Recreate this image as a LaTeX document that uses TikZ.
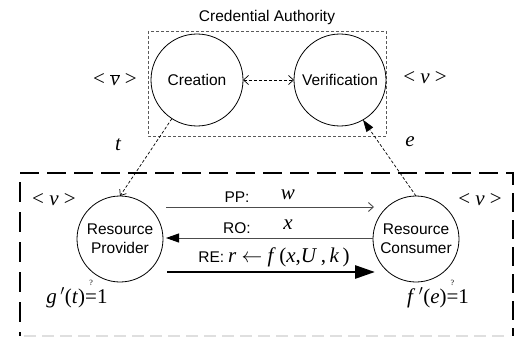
\documentclass[tikz,border=0pt]{standalone}
\usepackage{fontspec}
\setmainfont{Liberation Sans}
\newfontfamily\tms{Liberation Serif}
\usetikzlibrary{arrows.meta,calc}
\newcommand{\qeq}{\setbox0\hbox{=}\rlap{\hbox to \wd0{\hss\raisebox{18pt}{\fontsize{8}{8}\selectfont ?}\hss}}=}
\begin{document}
\begin{tikzpicture}[x=1pt,y=-1pt,
  every node/.style={inner sep=0pt,outer sep=0pt},
  sans/.style={font=\fontsize{15.5}{18.6}\selectfont},
  mth/.style={font=\tms\fontsize{21}{24}\selectfont},
  circ/.style={circle,draw,line width=0.8pt,minimum size=92pt,align=center,sans},
  smallcirc/.style={circ,minimum size=86pt},
  thindash/.style={dash pattern=on 3pt off 2pt,line width=0.7pt},
]
\useasboundingbox (0,0) rectangle (517,337);
% Credential authority
\node[sans] (title) at (267,17) {Credential Authority};
\draw[gray!70!black, dash pattern=on 3pt off 2pt, line width=0.8pt] (148,31) rectangle (386,136);
\node[circ] (cre) at (197,80) {Creation};
\node[circ] (ver) at (340,80) {Verification};
\draw[thindash, {Straight Barb[length=5pt,width=9pt]}-{Straight Barb[length=5pt,width=9pt]}] (cre) -- (ver);
\node[mth] (lvbar) at (115,80) {< $\overline{\hbox{\itshape v}}$ >};
\node[mth] (rv) at (425,78) {< \textit{v} >};
% big box
\draw[line width=2.6pt, dash pattern=on 19pt off 8pt] (20,173) -- (513,173) -- (513,336);
\draw[line width=2.6pt, dash pattern=on 20pt off 10pt] (20,182) -- (20,336);
\draw[gray!25, line width=1.5pt, dash pattern=on 12pt off 6pt] (24,336) -- (510,336);
% resource nodes
\node[smallcirc] (rp) at (120,239) {Resource\\Provider};
\node[smallcirc] (rc) at (416,239) {Resource\\Consumer};
\node[mth] (lv2) at (54,200) {< \textit{v} >};
\node[mth] (rv2) at (480,200) {< \textit{v} >};
% messages
\draw[gray!60!black, line width=0.9pt, -{Straight Barb[length=5pt,width=9pt]}] ($(rp.east)+(3,-32)$) -- ($(rc.west)+(1,-32)$);
\draw[gray!60!black, line width=0.9pt, -{Triangle[length=13pt,width=9pt,color=black]}] ($(rc.west)+(0,-1)$) -- ($(rp.east)+(3,-1)$);
\draw[line width=2.8pt, -{Triangle[length=20pt,width=13pt]}] ($(rp.east)+(4,33)$) -- ($(rc.west)+(2,33)$);
\node[sans,anchor=base] (pp) at (237,202) {PP:};
\node[mth,anchor=base] (w) at (288,199) {\itshape w};
\node[sans,anchor=base] (ro) at (237,233) {RO:};
\node[mth,anchor=base] (xl) at (288,229) {\itshape x};
\node[anchor=base] (re) at (274,262) {{\fontsize{15.5}{18}\selectfont RE:}\hspace{4pt}{\tms\fontsize{21}{24}\selectfont\textit{r} $\leftarrow$ \textit{f}\,(\textit{x},\textit{U}\,,\,\textit{k}\,)}};
% credentials
\draw[thindash, -{Straight Barb[length=5pt,width=8pt]}] (cre.237) -- (rp.north);
\draw[thindash, -{Triangle[length=12pt,width=8pt]}] (rc.north) -- (ver.-60);
\node[mth] (t) at (118,145) {\itshape t};
\node[mth] (e) at (410,142) {\itshape e};
% checks
\node[mth,anchor=base] (g) at (77,303) {\textit{g}$\,'$(\textit{t})\qeq1};
\node[mth,anchor=base] (f) at (438,303) {\textit{f}$\,'$(\textit{e})\qeq1};
\end{tikzpicture}
\end{document}
